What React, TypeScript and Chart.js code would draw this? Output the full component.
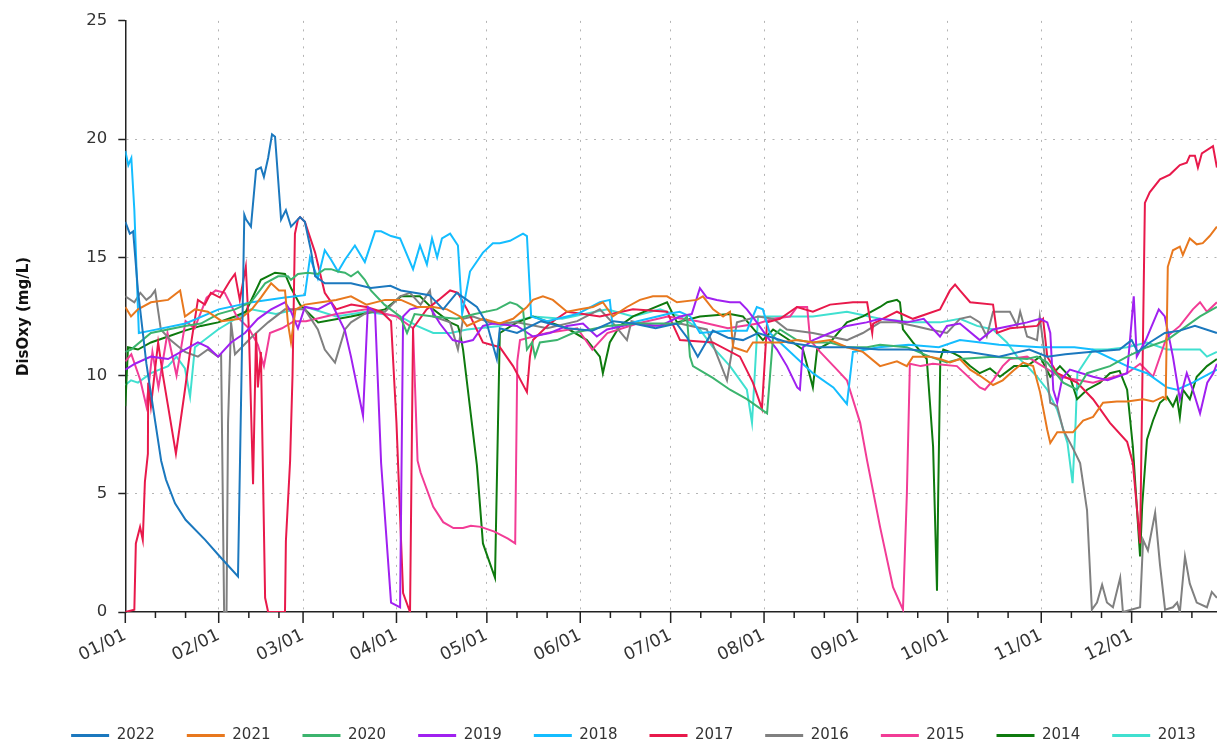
import { useEffect, useRef } from 'react';
import { Chart, registerables } from 'chart.js';

Chart.register(...registerables);

// ---- data ----
const years = ['2022', '2021', '2020', '2019', '2018', '2017', '2016', '2015', '2014', '2013'];
const colors = ['#1b78be', '#e8781e', '#3cb46e', '#a020f0', '#14bdff', '#e8194b', '#808080', '#f23c96', '#0e7a0e', '#40e0d0'];
const monthStarts = [0, 31, 59, 90, 120, 151, 181, 212, 243, 273, 304, 334];
const monthLabels = ['01/01', '02/01', '03/01', '04/01', '05/01', '06/01', '07/01', '08/01', '09/01', '10/01', '11/01', '12/01'];
const yTicks = [0, 5, 10, 15, 20, 25];

// [day of year, dissolved oxygen mg/L]
const s2022: [number, number][] = [
  [0, 16.5], [1.5, 16.0], [2.6, 16.1], [4.2, 13.6], [7, 10.5], [11.9, 6.4], [13.5, 5.6], [16.5, 4.6], [20, 3.9], [26.5, 3.05], [31, 2.4], [37.4, 1.5],
  [39.5, 16.8], [40.1, 16.6], [41.7, 16.3], [43.4, 18.7], [45, 18.8], [46, 18.4], [47.4, 19.2], [48.7, 20.2], [49.7, 20.1], [51.7, 16.6], [53.3, 17.0],
  [55, 16.3], [58, 16.7], [59.6, 16.5], [61.6, 15.3], [63, 14.2], [66.2, 13.9], [74.9, 13.9], [81.5, 13.7], [88, 13.8], [91.5, 13.6], [96, 13.5],
  [101, 13.4], [105.5, 12.8], [110, 13.5], [113.4, 13.2], [116.7, 12.9], [120, 12.2], [123.3, 10.7], [124.3, 12.0], [130, 11.8], [138, 12.3],
  [146.6, 12.0], [155, 11.9], [162, 12.3], [168.6, 12.2], [176, 12.0], [183, 12.2], [186.5, 11.6], [190, 10.8], [195, 11.9], [200, 11.6], [205, 11.5],
  [210, 11.8], [215, 11.6], [220, 11.4], [230, 11.2], [240, 11.2], [250, 11.1], [260, 11.1], [270, 11.0], [280, 11.0], [290, 10.8], [300, 11.1],
  [306, 10.8], [312, 10.9], [320, 11.0], [330, 11.1], [334, 11.5], [336, 11.0], [340, 11.4], [345, 11.8], [350, 11.9], [355, 12.1], [362.3, 11.8],
];
const s2021: [number, number][] = [
  [0, 12.9], [1.9, 12.5], [4.2, 12.8], [8.5, 13.1], [14.2, 13.2], [18.2, 13.6], [19.8, 12.5], [23.1, 12.8], [27.4, 12.7], [32, 12.3], [38.1, 12.4],
  [42, 12.8], [45, 13.3], [48.4, 13.9], [51, 13.6], [53, 13.6], [54, 12.2], [55, 11.4], [56.5, 12.8], [59.6, 13.0], [65, 13.1], [70, 13.2], [74.9, 13.35],
  [80, 13.0], [86.2, 13.2], [91.5, 13.2], [96.8, 12.9], [102.2, 12.9], [106.8, 12.8], [111.1, 12.5], [113.4, 12.1], [118.7, 12.4], [124.3, 12.2],
  [128.7, 12.4], [133.3, 12.9], [135.3, 13.2], [138.6, 13.35], [141.9, 13.2], [146.6, 12.7], [150.9, 12.8], [155.2, 12.9], [158.5, 13.1], [161.8, 12.5],
  [166.5, 12.9], [170.8, 13.2], [175.1, 13.35], [179.8, 13.35], [183.1, 13.1], [189.7, 13.2], [191.7, 13.35], [195.1, 12.8], [198.4, 12.5], [200.7, 12.7],
  [201.7, 11.2], [204, 11.1], [206.3, 11.0], [208.3, 11.4], [211.6, 11.4], [217.3, 11.4], [222.9, 11.5], [228.2, 11.4], [233.9, 11.5], [239.5, 11.2],
  [244.8, 11.0], [250.5, 10.4], [256.1, 10.6], [259.4, 10.4], [261.4, 10.8], [267, 10.8], [270.4, 10.7], [273.7, 10.55], [277, 10.7], [280.4, 10.25],
  [283.6, 10.0], [288, 9.6], [291.2, 9.8], [294.7, 10.2], [298, 10.55], [301.3, 10.4], [303.6, 9.3], [306, 7.7], [307, 7.15], [309.3, 7.6], [314.5, 7.6],
  [317.9, 8.1], [321.2, 8.25], [324.5, 8.85], [329.1, 8.9], [332.5, 8.9], [337.8, 9.0], [341.1, 8.9], [344.4, 9.1], [345.3, 9.0], [346, 14.6],
  [347.7, 15.3], [350, 15.45], [351, 15.1], [353.3, 15.8], [355.6, 15.55], [357.6, 15.6], [359.9, 15.9], [362.3, 16.3],
];
const s2020: [number, number][] = [
  [0, 11.0], [1.9, 11.1], [8.5, 11.8], [19.8, 12.1], [25.1, 12.2], [30.8, 12.6], [36.4, 12.8], [41.7, 13.1], [46.4, 13.9], [50.7, 14.2], [54, 14.2],
  [55, 14.05], [57.3, 14.3], [60.6, 14.35], [63.9, 14.3], [66.2, 14.5], [68.3, 14.5], [70.6, 14.4], [72.9, 14.35], [74.9, 14.2], [77.2, 14.4], [79.5, 14.05],
  [81.5, 13.6], [86, 13.0], [91.2, 12.5], [93.5, 11.8], [96, 12.6], [102.2, 12.5], [110, 12.4], [116, 12.6], [123.3, 12.8], [127.7, 13.1], [130, 13.0],
  [132, 12.8], [133.3, 11.1], [135, 11.4], [136, 10.8], [137.6, 11.4], [143.3, 11.5], [148.6, 11.8], [159.9, 12.1], [170, 12.2], [179.8, 12.2],
  [184.1, 12.2], [186.4, 12.5], [187.4, 10.8], [188.4, 10.4], [195, 9.9], [200.7, 9.4], [206.3, 9.0], [213, 8.4], [215, 11.65], [217.3, 11.95],
  [222.9, 11.5], [228.2, 11.4], [233.9, 11.4], [239.5, 11.2], [246.2, 11.2], [250.5, 11.3], [259.4, 11.2], [267, 10.8], [272.7, 10.55], [277, 10.7],
  [288, 10.8], [299.3, 10.7], [302.6, 10.8], [306, 10.55], [311.3, 9.7], [315.9, 9.4], [319.2, 10.1], [326.8, 10.4], [332.5, 10.8], [339.1, 11.2],
  [345.7, 11.5], [352.3, 12.1], [356.7, 12.5], [362.3, 12.9],
];
const s2019: [number, number][] = [
  [0, 10.25], [3.2, 10.5], [8.5, 10.8], [14.2, 10.7], [19.8, 11.1], [24.1, 11.4], [27.4, 11.2], [30.8, 10.8], [35.1, 11.4], [39.7, 11.8], [44, 12.4],
  [48.4, 12.8], [53, 13.1], [55, 12.7], [57.3, 12.0], [59.6, 12.9], [63.9, 12.8], [68.3, 13.1], [72.9, 11.9], [74.9, 10.8], [78.9, 8.3], [80.5, 12.9],
  [82.9, 12.7], [84.9, 6.3], [88.2, 0.4], [91.2, 0.2], [92.2, 12.5], [94.5, 12.8], [97.8, 12.9], [101.1, 12.9], [104.4, 12.2], [108.7, 11.5],
  [112.1, 11.4], [115.4, 11.5], [118.7, 12.1], [122, 12.2], [130, 12.1], [135.3, 11.65], [140.9, 11.8], [146.6, 12.1], [151.9, 12.2], [156.5, 11.65],
  [159.9, 11.95], [168.5, 12.2], [177.5, 12.1], [184.1, 12.5], [188, 12.6], [190.7, 13.7], [193, 13.3], [196.3, 13.2], [200.7, 13.1], [204, 13.1],
  [206.3, 12.8], [209.6, 12.25], [213, 11.65], [216.3, 11.1], [219.6, 10.4], [223, 9.5], [223.9, 9.4], [224.9, 11.2], [228.3, 11.5], [233.9, 11.8],
  [239.5, 12.1], [246, 12.25], [250.5, 12.4], [259.4, 12.25], [265, 12.4], [270.4, 11.65], [272.7, 12.1], [277, 12.2], [283.6, 11.5], [288, 11.95],
  [293.6, 12.1], [299.3, 12.25], [303.6, 12.4], [306, 12.25], [307, 11.8], [308, 9.4], [309.3, 8.85], [311, 9.9], [313.5, 10.25], [321.2, 9.95],
  [326, 9.8], [332.5, 10.1], [334.7, 13.35], [335.7, 10.8], [338.7, 11.5], [343, 12.8], [345, 12.5], [347.7, 10.8], [350, 9.0], [352.3, 10.1],
  [354.3, 9.4], [356.7, 8.4], [359.1, 9.7], [361.1, 10.1], [362.3, 10.5],
];
const s2018: [number, number][] = [
  [0, 19.5], [1, 18.9], [2, 19.2], [3, 17.0], [4.5, 11.8], [8.5, 11.9], [20, 12.2], [31, 12.8], [42, 13.1], [53, 13.3], [59.6, 13.4], [61.3, 15.0],
  [63.9, 14.1], [66.2, 15.3], [68.3, 14.9], [70.6, 14.4], [72.9, 14.9], [76.2, 15.5], [79.5, 14.8], [82.9, 16.1], [84.9, 16.1], [88.2, 15.9],
  [91.2, 15.8], [95.5, 14.5], [97.8, 15.5], [100.1, 14.7], [101.8, 15.8], [103.5, 15.0], [105.1, 15.8], [107.8, 16.0], [110.4, 15.5], [111.8, 12.6],
  [114.4, 14.4], [118.7, 15.2], [122, 15.6], [124.3, 15.6], [127.7, 15.7], [132, 16.0], [133.3, 15.9], [134.7, 12.5], [140, 12.3], [150, 12.6],
  [157.5, 13.1], [160.8, 13.2], [161.8, 12.0], [170, 12.3], [180, 12.6], [184, 12.7], [187.5, 12.5], [190.7, 11.8], [200, 11.9], [206.3, 11.9],
  [209.6, 12.9], [211.6, 12.8], [213.9, 11.8], [217.3, 11.4], [228.2, 10.1], [235, 9.5], [239.5, 8.8], [241.5, 11.0], [250, 11.2], [260, 11.3],
  [270, 11.2], [277, 11.5], [290, 11.3], [303.6, 11.2], [315, 11.2], [321, 11.1], [332.5, 10.4], [339.1, 10.1], [345.7, 9.5], [349, 9.4], [354.3, 9.7],
  [362.3, 10.25],
];
const s2017: [number, number][] = [
  [0, 0], [3, 0.1], [3.5, 2.9], [4.9, 3.6], [5.8, 3.05], [6.5, 5.5], [7.5, 6.7], [7.6, 9.7], [8.5, 8.7], [10.9, 11.4], [12.5, 10.0], [14.2, 8.7],
  [16.8, 6.7], [19.8, 9.4], [22, 11.5], [24.1, 13.2], [26.4, 13.0], [28.4, 13.5], [31.4, 13.3], [34.7, 14.0], [36.4, 14.3], [38, 13.2], [40, 14.6],
  [41, 12.0], [42.4, 5.4], [43.4, 11.8], [44, 9.5], [45, 11.0], [46.4, 0.6], [47.4, 0], [53, 0], [53.3, 3.0], [54.7, 6.4], [55.5, 10], [56.3, 16.0],
  [57.3, 16.6], [58, 16.7], [59.6, 16.5], [63, 15.2], [66.2, 13.5], [70, 12.8], [75, 13.0], [80, 12.9], [85, 12.7], [88.2, 12.3], [90, 8.0], [92.2, 0.8],
  [94.5, 0], [95.5, 12.0], [100, 12.8], [104, 13.2], [107.8, 13.6], [110.4, 13.5], [113.4, 12.8], [118.7, 11.4], [124.3, 11.2], [128.7, 10.4],
  [133.3, 9.3], [134.3, 10.8], [135.3, 11.5], [140.9, 12.2], [146.6, 12.7], [152, 12.6], [157.5, 12.5], [168.5, 12.8], [179.8, 12.7], [184.1, 11.5],
  [195, 11.4], [204, 10.8], [208.3, 9.7], [211.3, 8.6], [213, 12.25], [217.3, 12.4], [222.9, 12.9], [228.2, 12.7], [233.9, 13.0], [241.5, 13.1],
  [246.2, 13.1], [247.9, 11.8], [248.2, 12.2], [256.1, 12.7], [261.4, 12.4], [270.4, 12.8], [273.7, 13.6], [275.4, 13.85], [277, 13.6], [280.4, 13.1],
  [288, 13.0], [289.3, 11.8], [293.6, 12.0], [302.6, 12.1], [304.6, 12.4], [306, 10.8], [309.3, 10.1], [315.9, 9.7], [321.2, 9.0], [326.8, 8.0],
  [332.5, 7.2], [334.4, 6.3], [336.8, 2.9], [338.4, 17.3], [340, 17.75], [343.4, 18.3], [346.7, 18.5], [350, 18.9], [352.3, 19.0], [353.3, 19.3],
  [355, 19.3], [356, 18.8], [357.3, 19.4], [361, 19.7], [362.3, 18.8],
];
const s2016: [number, number][] = [
  [0, 13.35], [3, 13.1], [5, 13.5], [7, 13.2], [8.5, 13.35], [9.9, 13.6], [11.8, 11.95], [15, 11.5], [19.8, 11.0], [24.1, 10.8], [27.4, 11.1],
  [30.8, 10.8], [31.8, 10.9], [32.8, 0], [33.6, 0], [34.1, 8], [35.1, 12.25], [36.4, 10.9], [41.7, 11.6], [47.4, 12.25], [53, 12.8], [59.6, 12.8],
  [63.9, 11.95], [66.2, 11.1], [69.6, 10.55], [72.9, 11.95], [74.9, 12.25], [80.6, 12.7], [86.2, 12.7], [91.2, 13.35], [94.5, 13.5], [98, 13.0],
  [101.1, 13.6], [102.2, 12.5], [107.8, 12.25], [110.4, 11.1], [112.1, 12.4], [115.4, 12.5], [122, 12.2], [130, 12.25], [140, 12.0], [150, 12.3],
  [157.5, 12.8], [162, 12.2], [166.5, 11.5], [168, 12.3], [175, 12.1], [184, 12.2], [193, 11.95], [199.7, 9.8], [203, 12.25], [210, 12.5], [215, 12.4],
  [219.6, 11.95], [228.2, 11.8], [233.9, 11.65], [239.5, 11.5], [244.8, 11.8], [250.5, 12.25], [256.1, 12.25], [262, 12.1], [267, 11.95], [272.7, 11.8],
  [277, 12.4], [280.4, 12.5], [283.6, 12.25], [285.9, 11.65], [288, 12.7], [293.6, 12.7], [296, 12.1], [297, 12.7], [299.3, 11.65], [302.6, 11.5],
  [303.5, 12.5], [304.6, 11.4], [307, 8.85], [309.3, 8.7], [311.3, 7.7], [314.6, 6.9], [316.9, 6.3], [319.2, 4.3], [320.8, 0.1], [322.5, 0.4],
  [324.2, 1.15], [325.8, 0.4], [327.8, 0.2], [330.2, 1.45], [331.1, 0], [336.8, 0.2], [337.8, 3.05], [339.4, 2.6], [341.8, 4.2], [343.4, 2.0],
  [345.1, 0.1], [347.7, 0.2], [349.1, 0.4], [350, 0], [351.7, 2.35], [353.3, 1.2], [355.6, 0.4], [359, 0.2], [360.6, 0.85], [362.3, 0.6],
];
const s2015: [number, number][] = [
  [0, 10.6], [2, 10.9], [5, 9.8], [7, 8.7], [9, 11.0], [11, 9.5], [14, 11.8], [17, 10.0], [20, 12.3], [23, 12.0], [27, 13.3], [30, 13.6], [33, 13.5],
  [37, 12.5], [41, 12.0], [44, 11.3], [46, 10.4], [48, 11.8], [52, 12.0], [56, 12.3], [60, 12.3], [70, 12.6], [80, 12.8], [90, 12.5], [95.5, 12.0],
  [97, 6.4], [98, 5.9], [102.2, 4.45], [105.5, 3.8], [108.9, 3.55], [112.1, 3.55], [114.7, 3.65], [118, 3.6], [122.5, 3.4], [127, 3.1], [129.4, 2.9],
  [130.1, 10.6], [131, 11.5], [140, 11.8], [150, 12.0], [155, 11.1], [160, 11.8], [170, 12.2], [180, 12.5], [190, 12.3], [200, 12.0], [210, 12.2],
  [215, 12.4], [220.6, 12.5], [223, 12.9], [226.3, 12.9], [227.3, 11.5], [230.6, 11.0], [236.2, 10.25], [239.5, 9.8], [243.9, 8.0], [246.2, 6.4],
  [250.5, 3.6], [254.8, 1.05], [258.1, 0.1], [259.4, 5], [260.4, 10.5], [264, 10.4], [268, 10.5], [276, 10.4], [283.6, 9.5], [285.3, 9.4], [288, 9.8],
  [291.2, 10.4], [293.6, 10.7], [299.3, 10.8], [310.2, 9.95], [321.2, 9.7], [332.5, 10.1], [336.8, 10.5], [341.1, 9.95], [345.7, 11.65], [350, 12.1],
  [354.3, 12.8], [356.7, 13.1], [359, 12.7], [362.3, 13.1],
];
const s2014: [number, number][] = [
  [0, 8.7], [0.9, 11.2], [4.2, 11.1], [8.5, 11.4], [14.2, 11.65], [19.8, 11.9], [25.1, 12.1], [30.8, 12.25], [36.4, 12.5], [40, 12.7], [45, 14.05],
  [49.7, 14.35], [53, 14.3], [55, 13.7], [58, 13.0], [64, 12.25], [74.9, 12.5], [86.2, 12.8], [91.5, 13.35], [97.8, 13.35], [102.2, 12.8],
  [107.8, 12.25], [110.4, 12.1], [111.1, 11.8], [112.1, 11.1], [116.7, 6.2], [118.7, 2.9], [122.7, 1.45], [123.7, 8], [124.3, 11.8], [130, 12.25],
  [135.3, 12.5], [140.9, 12.25], [146.6, 12.0], [153.2, 11.5], [157.5, 10.8], [158.5, 10.1], [160.8, 11.4], [164.1, 12.1], [168.5, 12.5], [174.1, 12.8],
  [179.8, 13.1], [183.1, 12.25], [190.7, 12.5], [200.7, 12.6], [205, 12.5], [211.6, 11.5], [215, 11.95], [221.6, 11.4], [224.9, 11.1], [227.3, 9.95],
  [228.2, 9.5], [229.6, 11.1], [233.9, 11.4], [239.5, 12.25], [244.8, 12.5], [250.5, 12.9], [252.9, 13.1], [256.1, 13.2], [257.1, 13.1], [258.1, 11.95],
  [261.4, 11.4], [266, 10.7], [268.1, 7], [269.4, 0.9], [269.8, 5], [270.5, 10.7], [271.5, 11.1], [274.8, 10.95], [277, 10.8], [280.4, 10.4],
  [283.6, 10.1], [287, 10.3], [290.3, 9.95], [295, 10.4], [299.3, 10.4], [303.6, 10.8], [307, 9.95], [310.2, 10.4], [313.5, 9.95], [315.9, 9.0],
  [319.2, 9.4], [323.5, 9.7], [326.8, 10.1], [330, 10.2], [332.5, 9.4], [334.4, 7.0], [336.8, 2.35], [337.5, 4.5], [339.1, 7.3], [341.1, 8.1],
  [343.4, 8.85], [345.7, 9.1], [347.7, 8.7], [349, 9.1], [350, 8.25], [351, 9.4], [353.3, 9.0], [355.6, 9.95], [359, 10.4], [362.3, 10.7],
];
const s2013: [number, number][] = [
  [0, 9.6], [1.9, 9.8], [4.2, 9.7], [8.5, 10.1], [14.2, 10.4], [17, 10.8], [19.8, 10.3], [21.5, 9.1], [23.1, 11.2], [30.8, 11.95], [41.7, 12.8],
  [50, 12.6], [60, 12.9], [70, 12.5], [80, 12.7], [91.2, 12.5], [96.8, 12.1], [102.2, 11.8], [108, 11.8], [113.4, 11.95], [124.3, 12.1], [135.3, 12.5],
  [145, 12.4], [159.9, 12.8], [168.5, 12.5], [177.5, 12.8], [184.1, 12.5], [190.7, 11.95], [195, 11.2], [200.7, 10.4], [206.3, 9.4], [208, 8.0],
  [210, 12.5], [217.3, 12.5], [228.2, 12.5], [239.5, 12.7], [250.5, 12.4], [261.4, 12.25], [270.4, 12.25], [277, 12.4], [282.7, 12.1], [288, 11.95],
  [292.6, 11.4], [296, 10.8], [299.3, 10.4], [302.6, 9.95], [306, 9.4], [309.3, 8.55], [312.7, 7.15], [314.4, 5.45], [315.4, 8], [316, 10.1],
  [321.2, 11.1], [326, 11.1], [332.5, 11.2], [339.1, 11.4], [345.7, 11.1], [352.3, 11.1], [356.7, 11.1], [359, 10.8], [362.3, 11.0],
];

// ---- layout constants ----
const CANVAS_W = 1267;
const CANVAS_H = 753;
const PLOT_LEFT = 125.3;
const PLOT_TOP = 19.5;
const PLOT_BOTTOM = 612;
const PX_PER_DAY = 3.013;
const X_MAX = (CANVAS_W - PLOT_LEFT) / PX_PER_DAY;
const FONT = 'DejaVu Sans';
const TEXT = '#333333';
const GRID = '#b4b4b4';

export default function App() {
  const ref = useRef<HTMLCanvasElement>(null);

  useEffect(() => {
    const canvas = ref.current;
    if (!canvas) return;
    const series = [s2022, s2021, s2020, s2019, s2018, s2017, s2016, s2015, s2014, s2013];

    const tickMarks = {
      id: 'tickMarks',
      afterDraw(chart: any) {
        const xs = chart.scales.x;
        const ctx = chart.ctx;
        const y0 = chart.chartArea.bottom;
        ctx.save();
        ctx.strokeStyle = '#222';
        ctx.lineWidth = 1.5;
        monthStarts.forEach((ms) => {
          [0, 10, 20].forEach((off) => {
            const px = xs.getPixelForValue(ms + off);
            const len = off === 0 ? 11 : 6;
            ctx.beginPath();
            ctx.moveTo(px, y0);
            ctx.lineTo(px, y0 + len);
            ctx.stroke();
          });
        });
        ctx.restore();
      },
    };

    const chart = new Chart(canvas, {
      type: 'line',
      data: {
        datasets: years.map((label, i) => ({
          label,
          data: series[i].map(([d, v]) => ({ x: d, y: v })),
          borderColor: colors[i],
          backgroundColor: colors[i],
          borderWidth: 2,
          pointRadius: 0,
          pointHoverRadius: 0,
          tension: 0,
          fill: false,
        })),
      },
      options: {
        responsive: false,
        animation: false,
        devicePixelRatio: 1,
        events: [],
        layout: { padding: { top: PLOT_TOP, left: 0, right: 0, bottom: 0 } },
        scales: {
          x: {
            type: 'linear',
            min: 0,
            max: X_MAX,
            afterBuildTicks: (s: any) => {
              s.ticks = monthStarts.map((v) => ({ value: v }));
            },
            afterFit: (s: any) => {
              const lh = s.chart.legend ? s.chart.legend.height : 0;
              s.height = CANVAS_H - PLOT_BOTTOM - lh;
            },
            ticks: {
              autoSkip: false,
              minRotation: 26,
              maxRotation: 26,
              padding: 13,
              color: TEXT,
              font: { family: FONT, size: 17.5 },
              callback: (v: any) => {
                const i = monthStarts.indexOf(Number(v));
                return i >= 0 ? monthLabels[i] : '';
              },
            },
            grid: {
              drawTicks: false,
              lineWidth: 1,
              color: (c: any) => (c.tick && c.tick.value === 0 ? 'rgba(0,0,0,0)' : GRID),
            },
            border: { display: true, color: '#222', width: 1.5, dash: [2, 6.5] },
          },
          y: {
            min: 0,
            max: 25,
            afterBuildTicks: (s: any) => {
              s.ticks = yTicks.map((v) => ({ value: v }));
            },
            afterFit: (s: any) => {
              s.width = PLOT_LEFT;
            },
            ticks: {
              padding: 11,
              color: TEXT,
              font: { family: FONT, size: 16.5 },
            },
            grid: {
              drawTicks: true,
              tickLength: 7,
              tickColor: '#222',
              tickWidth: 1.5,
              lineWidth: 1,
              color: (c: any) => (c.tick && (c.tick.value === 0 || c.tick.value === 25) ? 'rgba(0,0,0,0)' : GRID),
            },
            border: { display: true, color: '#222', width: 1.5, dash: [2, 6.5] },
            title: {
              display: true,
              text: 'DisOxy (mg/L)',
              color: '#111',
              font: { family: FONT, size: 15, weight: 'bold' },
              padding: { top: 15, bottom: 0 },
            },
          },
        },
        plugins: {
          legend: {
            position: 'bottom',
            labels: {
              usePointStyle: true,
              pointStyle: 'line',
              pointStyleWidth: 38,
              padding: 32,
              color: TEXT,
              font: { family: FONT, size: 15 },
              generateLabels: (ch: any) =>
                (Chart.defaults.plugins.legend.labels as any).generateLabels(ch).map((l: any) => ({ ...l, lineWidth: 3 })),
            },
          },
          tooltip: { enabled: false },
        },
      } as any,
      plugins: [tickMarks],
    });
    return () => chart.destroy();
  }, []);

  return (
    <div style={{ position: 'absolute', left: 0, top: 0, width: 1217, height: 747, overflow: 'hidden', background: '#fff' }}>
      <canvas ref={ref} width={CANVAS_W} height={CANVAS_H} style={{ display: 'block', width: CANVAS_W, height: CANVAS_H }} />
    </div>
  );
}
